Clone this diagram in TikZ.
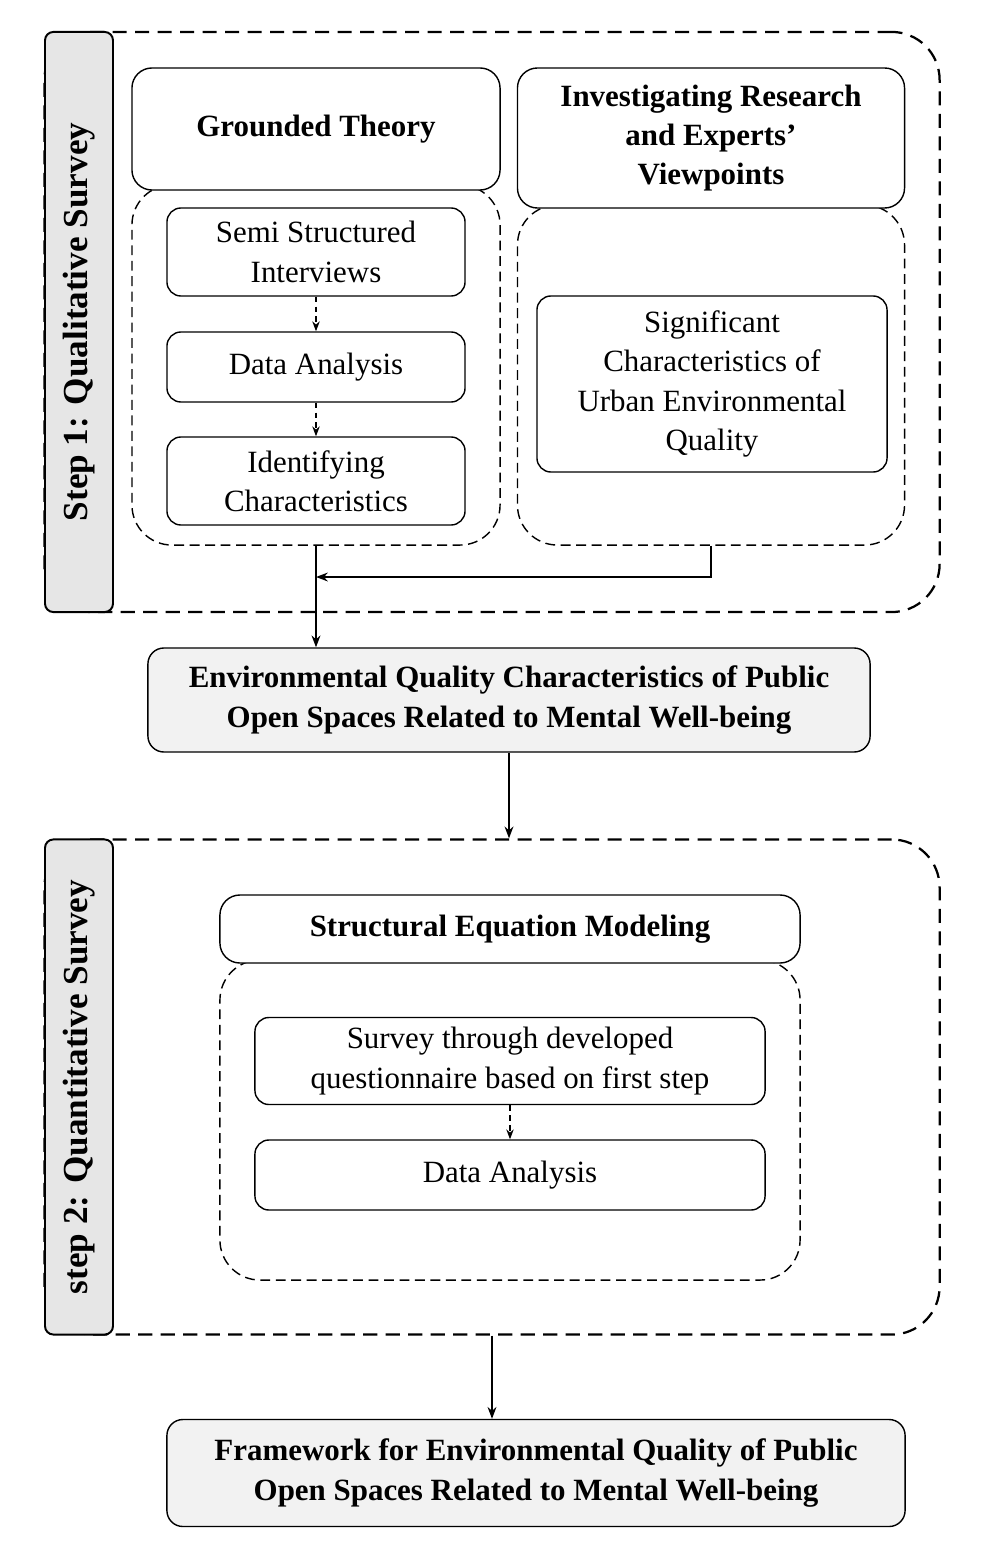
\documentclass[tikz,border=0pt]{standalone}
\usepackage{fontspec}
\setmainfont{Liberation Serif}
\usetikzlibrary{arrows.meta, positioning}
\definecolor{TabGray}{HTML}{E6E6E6}
\definecolor{BoxGray}{HTML}{F2F2F2}

\begin{document}
\begin{tikzpicture}[x=0.025cm, y=-0.025cm, >=Stealth, every node/.style={font=\fontsize{22}{28}\selectfont}]
  \tikzset{
    outer/.style={rectangle, rounded corners=1.2cm, draw, dash pattern=on 10pt off 6pt, line width=1.6pt, minimum width=22.375cm},
    tab/.style={rectangle, rounded corners=6pt, draw, line width=1.4pt, fill=TabGray, minimum width=1.7cm, minimum height=14.5cm},
    head/.style={rectangle, rounded corners=0.5cm, draw, line width=1pt, fill=white, align=center, font=\fontsize{22}{28}\selectfont\bfseries},
    group/.style={rectangle, rounded corners=1cm, draw, dash pattern=on 7pt off 4pt, line width=1pt},
    stage/.style={rectangle, rounded corners=0.35cm, draw, line width=1pt, fill=white, align=center},
    result/.style={rectangle, rounded corners=0.4cm, draw, line width=1pt, fill=BoxGray, align=center, font=\fontsize{22}{28}\selectfont\bfseries},
    arrow/.style={->, line width=1.2pt},
    link/.style={->, dash pattern=on 4pt off 3pt, line width=0.9pt}
  }
  \useasboundingbox (0,0) rectangle (981,1556);

  % Step 1
  \node[outer, minimum height=14.5cm] (stepone) at (492,322) {};
  \node[tab] (tabone) at (79,322) {\rotatebox{90}{\fontsize{25}{30}\selectfont\bfseries Step 1: Qualitative Survey}};

  \node[group, minimum width=9.2cm, minimum height=9cm] (gtgroup) at (316,365) {};
  \node[head, minimum width=9.2cm, minimum height=3.05cm] (gt) at (316,129) {Grounded Theory};
  \node[stage, minimum width=7.45cm, minimum height=2.2cm] (semi) at (316,252) {Semi Structured\\Interviews};
  \node[stage, minimum width=7.45cm, minimum height=1.75cm] (anaone) at (316,367) {Data Analysis};
  \node[stage, minimum width=7.45cm, minimum height=2.2cm] (ident) at (316,481) {Identifying\\Characteristics};

  \node[group, minimum width=9.675cm, minimum height=8.5cm] (invgroup) at (711,375) {};
  \node[head, minimum width=9.675cm, minimum height=3.5cm] (inv) at (711,138) {Investigating Research\\and Experts'\\Viewpoints};
  \node[stage, minimum width=8.75cm, minimum height=4.4cm] (signif) at (712,384) {Significant\\Characteristics of\\Urban Environmental\\Quality};

  \draw[link] (semi) -- (anaone);
  \draw[link] (anaone) -- (ident);

  \node[result, minimum width=18.05cm, minimum height=2.6cm] (eqc) at (509,700) {Environmental Quality Characteristics of Public\\Open Spaces Related to Mental Well-being};

  \coordinate (join) at (316,577);
  \draw[arrow] (invgroup.south) |- (join);
  \draw[arrow] (gtgroup.south) -- (gtgroup.south |- eqc.north);

  % Step 2
  \node[outer, minimum height=12.375cm] (steptwo) at (492,1087) {};
  \node[tab, minimum height=12.375cm] (tabtwo) at (79,1087) {\rotatebox{90}{\fontsize{25}{30}\selectfont\bfseries step 2: Quantitative Survey}};
  \draw[arrow] (eqc.south) -- (eqc.south |- steptwo.north);

  \node[group, minimum width=14.5cm, minimum height=8cm] (semgroup) at (510,1120) {};
  \node[head, minimum width=14.5cm, minimum height=1.7cm] (sem) at (510,929) {Structural Equation Modeling};
  \node[stage, minimum width=12.75cm, minimum height=2.175cm] (survey) at (510,1061) {Survey through developed\\questionnaire based on first step};
  \node[stage, minimum width=12.75cm, minimum height=1.75cm] (anatwo) at (510,1175) {Data Analysis};
  \draw[link] (survey) -- (anatwo);

  \node[result, minimum width=18.45cm, minimum height=2.675cm] (frame) at (536,1473) {Framework for Environmental Quality of Public\\Open Spaces Related to Mental Well-being};
  \draw[arrow] (steptwo.south) -- (steptwo.south |- frame.north);
\end{tikzpicture}
\end{document}
